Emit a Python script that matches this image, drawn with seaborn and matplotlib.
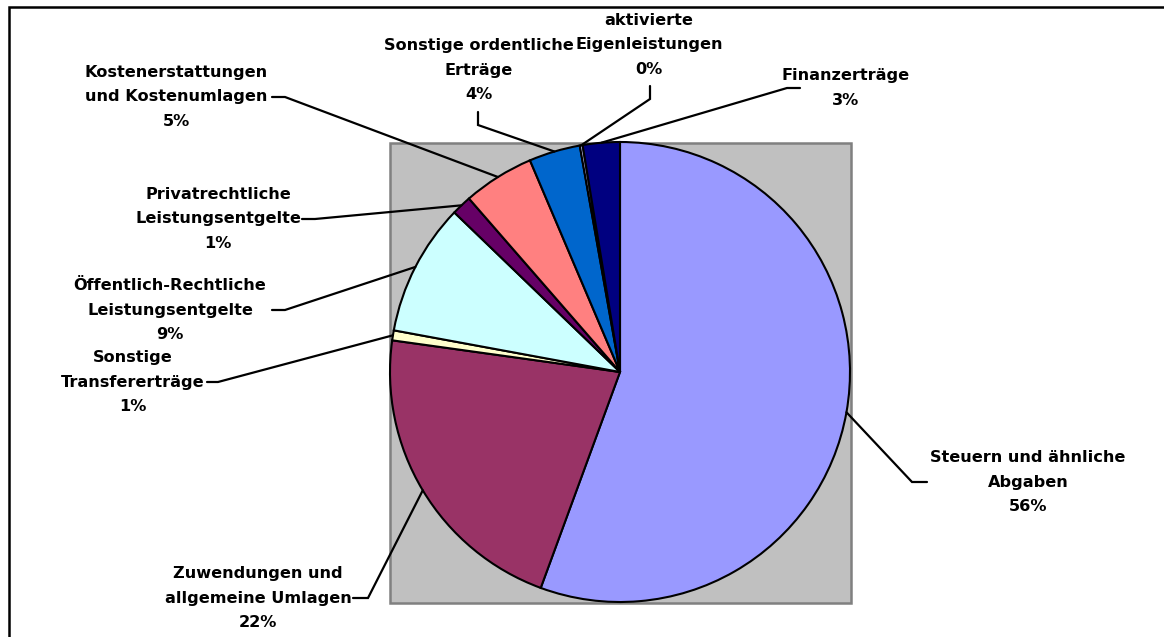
import numpy as np
import matplotlib
matplotlib.use("Agg")
import matplotlib.pyplot as plt
from matplotlib.patches import Rectangle
import seaborn as sns

# Ertragsarten (im Uhrzeigersinn ab 12 Uhr)
categories = ["Steuern und ähnliche\nAbgaben",
              "Zuwendungen und\nallgemeine Umlagen",
              "Sonstige\nTransfererträge",
              "Öffentlich-Rechtliche\nLeistungsentgelte",
              "Privatrechtliche\nLeistungsentgelte",
              "Kostenerstattungen\nund Kostenumlagen",
              "Sonstige ordentliche\nErträge",
              "aktivierte\nEigenleistungen",
              "Finanzerträge"]
shares = [55.6, 21.6, 0.7, 9.3, 1.4, 5.0, 3.6, 0.2, 2.6]
colors = ["#9999FF", "#993366", "#FFFFCC", "#CCFFFF", "#660066",
          "#FF8080", "#0066CC", "#CCCCFF", "#000080"]

# label layout in pixels (y from top): text centre, knee of leader, attach point
text_pos = [(1028, 482), (258, 598), (133, 382), (170, 310), (218, 219),
            (176, 97), (479, 70), (649, 45), (846, 88)]
knees = [(912, 482), (368, 598), (218, 382), (285, 310), (315, 219),
         (285, 97), (478, 125), (650, 99), (787, 88)]
attach = [(927, 482), (353, 598), (207, 382), (272, 310), (302, 219),
          (272, 97), (478, 112), (650, 86), (800, 88)]

W, H = 1164, 637
cx, cy, r = 620, H - 372, 230

sns.set_style("white")
pal = sns.color_palette(colors)
plt.rcParams['font.family'] = ['DejaVu Sans']

fig = plt.figure(figsize=(W / 100, H / 100), dpi=100)
ax = fig.add_axes([0, 0, 1, 1])

# grey plot area
ax.add_patch(Rectangle((390, H - 603), 461, 460, facecolor="#C0C0C0",
                       edgecolor="#808080", linewidth=1.8, zorder=0))

wedges, _ = ax.pie(shares, colors=pal, startangle=90, counterclock=False,
                   center=(cx, cy), radius=r,
                   wedgeprops=dict(edgecolor="black", linewidth=1.5))

total = sum(shares)
for i, w in enumerate(wedges):
    mid = np.deg2rad((w.theta1 + w.theta2) / 2)
    ex, ey = cx + r * np.cos(mid), cy + r * np.sin(mid)
    kx, ky = knees[i]
    axx, axy = attach[i]
    ax.plot([ex, kx, axx], [ey, H - ky, H - axy], color="black", lw=1.6,
            solid_joinstyle="miter", zorder=5)
    tx, ty = text_pos[i]
    pct = "%.0f%%" % (shares[i] / total * 100)
    ax.text(tx, H - ty, categories[i] + "\n" + pct, ha="center", va="center",
            multialignment="center", fontsize=11.6, fontweight="bold",
            linespacing=1.8, color="black", zorder=6)

# outer frame (cut off on right and bottom like the original)
ax.add_patch(Rectangle((9, -20), W + 20, H - 7 + 20, facecolor="none",
                       edgecolor="black", linewidth=1.8, clip_on=False, zorder=10))

ax.set_xlim(0, W)
ax.set_ylim(0, H)
ax.set_aspect("equal", adjustable="box")
ax.axis("off")

fig.savefig("out.png", dpi=100)
plt.close()
